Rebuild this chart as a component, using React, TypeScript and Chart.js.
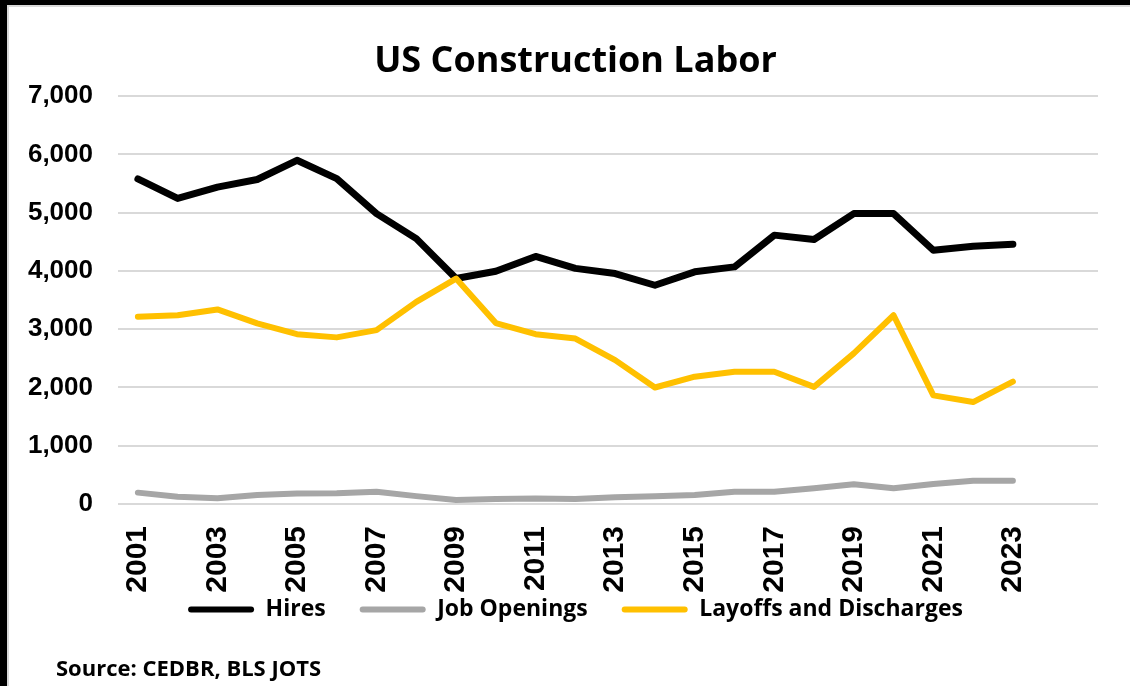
import React, { useEffect, useRef } from "react";
import { Chart, registerables } from "chart.js";

Chart.register(...registerables);

const years = [2001, 2002, 2003, 2004, 2005, 2006, 2007, 2008, 2009, 2010, 2011, 2012, 2013, 2014, 2015, 2016, 2017, 2018, 2019, 2020, 2021, 2022, 2023];
const hires = [5580, 5245, 5440, 5570, 5900, 5585, 4985, 4555, 3870, 3995, 4250, 4045, 3955, 3755, 3985, 4070, 4615, 4540, 4985, 4985, 4355, 4425, 4460];
const jobOpenings = [195, 125, 100, 155, 180, 185, 210, 135, 70, 85, 95, 85, 115, 135, 155, 210, 210, 270, 340, 270, 345, 400, 400];
const layoffs = [3215, 3240, 3340, 3100, 2915, 2860, 2985, 3470, 3870, 3105, 2915, 2840, 2470, 2000, 2185, 2270, 2270, 2010, 2585, 3240, 1865, 1750, 2100];
const tickYears = [2001, 2003, 2005, 2007, 2009, 2011, 2013, 2015, 2017, 2019, 2021, 2023];
const yTicks = [0, 1000, 2000, 3000, 4000, 5000, 6000, 7000];

const toPoints = (vals: number[]) => years.map((y, i) => ({ x: y, y: vals[i] }));

export default function App() {
  const ref = useRef<HTMLCanvasElement | null>(null);
  useEffect(() => {
    document.body.style.margin = "0";
    if (!ref.current) return;
    const common = { pointRadius: 0, borderJoinStyle: "round" as const, borderCapStyle: "round" as const, tension: 0 };
    const chart = new Chart(ref.current, {
      type: "line",
      data: {
        datasets: [
          { label: "Hires", data: toPoints(hires), borderColor: "#000000", backgroundColor: "#000000", borderWidth: 7, order: 3, ...common },
          { label: "Job Openings", data: toPoints(jobOpenings), borderColor: "#a6a6a6", backgroundColor: "#a6a6a6", borderWidth: 6, order: 2, ...common },
          { label: "Layoffs and Discharges", data: toPoints(layoffs), borderColor: "#ffc000", backgroundColor: "#ffc000", borderWidth: 6, order: 1, ...common },
        ],
      },
      options: {
        animation: false,
        responsive: false,
        maintainAspectRatio: false,
        layout: { padding: { left: 44, right: 32, top: 0, bottom: 55 } },
        plugins: {
          title: {
            display: true,
            text: "US Construction Labor",
            color: "#000",
            font: { family: "Open Sans", size: 36, weight: "bold" },
            padding: { top: 33, bottom: 13 },
          },
          legend: {
            position: "bottom",
            labels: {
              color: "#000",
              font: { family: "Open Sans", size: 23, weight: "bold" },
              boxWidth: 66,
              boxHeight: 6,
              padding: 34,
              useBorderRadius: true,
              borderRadius: 3,
              sort: (a: any, b: any) => a.datasetIndex - b.datasetIndex,
              generateLabels: (c: any) =>
                Chart.defaults.plugins.legend.labels.generateLabels(c).map((l: any) => ({ ...l, lineWidth: 0, fillStyle: l.strokeStyle })),
            },
          },
          tooltip: { enabled: false },
        },
        scales: {
          x: {
            type: "linear",
            min: 2000.5,
            max: 2025.14,
            grid: { display: false, drawTicks: false },
            border: { display: false },
            afterBuildTicks: (axis: any) => {
              axis.ticks = tickYears.map((v) => ({ value: v }));
            },
            afterFit: (scale: any) => {
              scale.height = 60;
              scale._computeLabelArea = () => undefined;
            },
            ticks: {
              autoSkip: false,
              maxRotation: 90,
              minRotation: 90,
              padding: 22,
              color: "#000",
              font: { family: "Liberation Sans", size: 30, weight: "bold" },
              callback: (v: any) => String(v),
            },
          },
          y: {
            min: 0,
            max: 7000,
            afterBuildTicks: (axis: any) => {
              axis.ticks = yTicks.map((v) => ({ value: v }));
            },
            afterFit: (scale: any) => {
              scale.width = 65;
              scale._computeLabelArea = () => undefined;
            },
            grid: { color: "#d9d9d9", lineWidth: 2, drawTicks: false },
            border: { display: false },
            ticks: {
              padding: 25,
              color: "#000",
              font: { family: "Liberation Sans", size: 26, weight: "bold" },
              callback: (v: any) => Number(v).toLocaleString("en-US"),
            },
          },
        },
      },
    });
    return () => chart.destroy();
  }, []);

  return (
    <div style={{ position: "relative", width: 1130, height: 686, background: "#000", overflow: "hidden" }}>
      <div
        style={{
          position: "absolute",
          left: 7,
          top: 5,
          right: 0,
          bottom: 0,
          background: "#fff",
          borderLeft: "2px solid #d9d9d9",
          borderTop: "2px solid #d9d9d9",
        }}
      />
      <canvas ref={ref} width={1121} height={679} style={{ position: "absolute", left: 9, top: 7, width: 1121, height: 679 }} />
      <div
        style={{
          position: "absolute",
          left: 56,
          top: 653,
          fontFamily: "Open Sans",
          fontWeight: "bold",
          fontSize: 22,
          lineHeight: "28px",
          color: "#000",
          whiteSpace: "nowrap",
        }}
      >
        Source: CEDBR, BLS JOTS
      </div>
    </div>
  );
}
